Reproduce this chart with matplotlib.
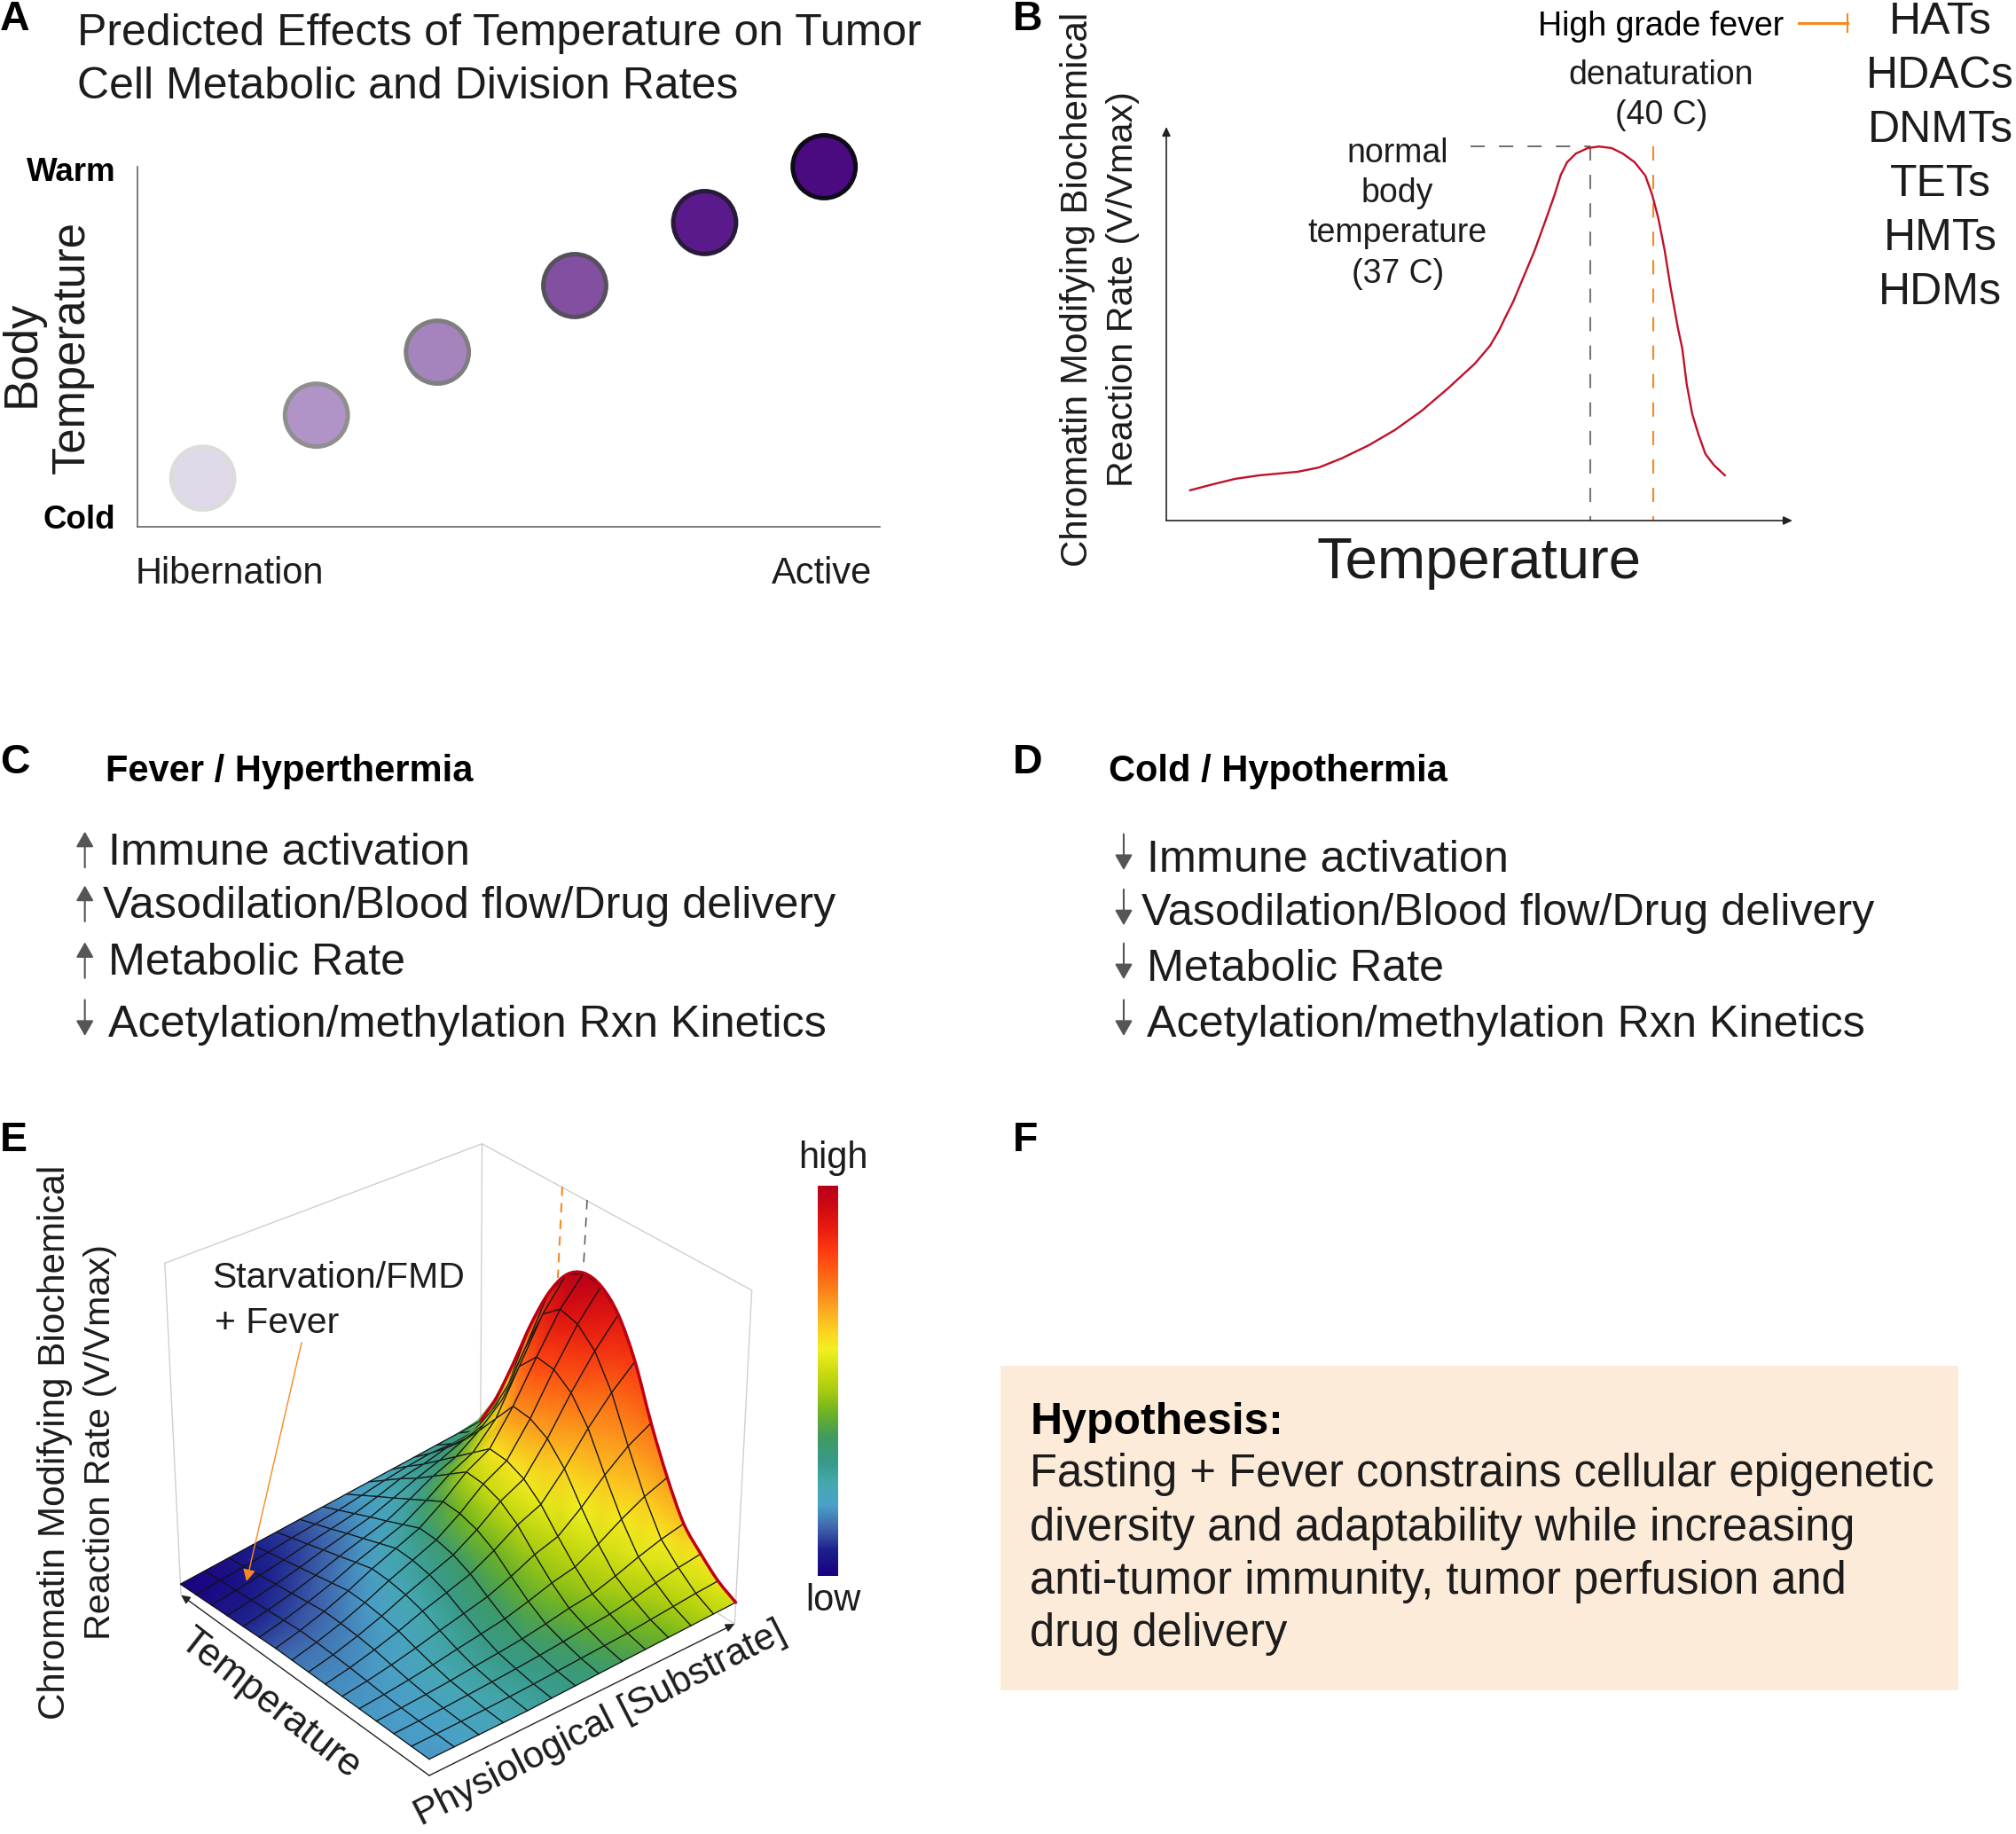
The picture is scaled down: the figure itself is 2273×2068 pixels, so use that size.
import numpy as np
import matplotlib
matplotlib.use('Agg')
import matplotlib.pyplot as plt
from matplotlib.colors import LinearSegmentedColormap, Normalize
from matplotlib.cm import ScalarMappable
from matplotlib.path import Path
from matplotlib.patches import PathPatch

plt.rcParams['font.family'] = ['Liberation Sans', 'DejaVu Sans']
W, H = 2273, 2068
INK = '#1c1c1c'
ORANGE = '#f58a20'

activity = [0.088, 0.241, 0.404, 0.589, 0.764, 0.925]
body_temp = [0.135, 0.31, 0.485, 0.67, 0.845, 1.0]
dot_fill = ['#e0d9ea', '#b094c8', '#a583bd', '#834fa0', '#5b1a8b', '#4a0a80']
dot_edge = ['#dcdcdc', '#8f8f8f', '#7f7f7f', '#55505c', '#2a1a3a', '#0e0a18']

curve_t = [3.8,7.4,11.0,14.9,21.0,24.4,28.0,32.3,36.5,40.8,45.0,49.3,51.7,53.1,54.2,55.4,58.8,60.6,62.0,63.0,64.0,65.4,67.3,69.1,71.1,72.9,74.8,76.5,77.6,78.6,79.6,80.5,81.7,82.4,83.1,84.0,85.0,86.1,87.5,89.2]
curve_r = [7.7,9.2,10.6,11.5,12.4,13.5,15.8,19.1,23.0,27.9,33.6,39.9,44.4,48.2,51.8,55.6,68.5,76.4,82.7,87.8,91.0,93.2,94.6,95.0,94.6,93.2,91.0,87.6,82.7,76.6,68.5,59.5,48.9,43.7,34.7,27.0,21.8,16.9,14.0,11.5]
normal_t, fever_t, peak_r = 67.7, 77.8, 95

enzymes = ['HATs', 'HDACs', 'DNMTs', 'TETs', 'HMTs', 'HDMs']
enzyme_y = [15, 57, 99, 141, 183, 225]
hyper_items = ['Immune activation', 'Vasodilation/Blood flow/Drug delivery', 'Metabolic Rate', 'Acetylation/methylation Rxn Kinetics']
hyper_dir = [1, 1, 1, -1]
hypo_dir = [-1, -1, -1, -1]

cmap_pos = [0,.065,.12,.18,.235,.29,.355,.42,.475,.525,.58,.63,.68,.745,.825,.89,.945,1]
cmap_col = ['#1a0080','#1c1f8c','#3e62ab','#4aa0c8','#45a8b0','#389a8a','#3f9a60','#6db322','#a8cc10','#ccdb10','#f2f020','#fcd020','#fbaa20','#fb7818','#ff4010','#e81c10','#d00a12','#b80018']

# rows: substrate low -> high; columns: temperature low -> high
surface_height = np.array([
 [.050,.050,.050,.050,.050,.050,.050,.050,.050,.050,.0475,.045,.0425,.040,.0375,.035],
 [.050,.051,.052,.054,.057,.061,.065,.068,.070,.070,.066,.061,.057,.052,.048,.043],
 [.050,.052,.055,.059,.066,.075,.085,.091,.094,.095,.088,.080,.073,.066,.058,.051],
 [.050,.053,.059,.065,.077,.092,.108,.118,.124,.125,.114,.103,.092,.081,.070,.059],
 [.050,.055,.063,.073,.090,.111,.135,.150,.158,.160,.145,.129,.114,.098,.083,.067],
 [.052,.058,.068,.080,.102,.129,.158,.178,.188,.190,.171,.152,.133,.113,.094,.075],
 [.054,.062,.074,.088,.114,.147,.182,.206,.218,.220,.197,.174,.152,.129,.106,.083],
 [.056,.066,.081,.100,.134,.176,.221,.251,.267,.270,.240,.210,.180,.151,.121,.091],
 [.058,.070,.090,.114,.157,.210,.267,.306,.326,.330,.290,.250,.210,.176,.137,.099],
 [.060,.074,.097,.124,.173,.233,.298,.343,.366,.370,.325,.280,.235,.190,.150,.107],
 [.062,.081,.110,.146,.211,.290,.376,.435,.464,.470,.400,.330,.265,.210,.160,.115],
 [.064,.088,.126,.172,.255,.358,.468,.544,.583,.590,.530,.395,.290,.215,.160,.123],
 [.066,.095,.140,.194,.293,.415,.546,.640,.690,.705,.660,.525,.380,.265,.170,.131],
 [.068,.100,.150,.210,.320,.455,.610,.720,.775,.785,.750,.665,.540,.390,.250,.140]])
surface_colour = np.array([
 [.17,.175,.175,.175,.17,.165,.16,.15,.135,.115,.09,.07,.05,.03,.012,0],
 [.18,.18,.18,.18,.175,.17,.16,.15,.135,.115,.095,.075,.055,.04,.025,.02],
 [.20,.20,.20,.20,.195,.185,.175,.16,.145,.125,.11,.09,.075,.055,.045,.04],
 [.22,.22,.23,.23,.225,.215,.205,.19,.175,.155,.135,.115,.095,.08,.07,.06],
 [.25,.25,.26,.26,.26,.25,.24,.23,.21,.19,.165,.14,.12,.105,.09,.085],
 [.28,.28,.29,.30,.30,.30,.29,.28,.26,.24,.20,.17,.15,.135,.12,.11],
 [.30,.31,.32,.33,.34,.35,.35,.34,.33,.30,.25,.21,.185,.165,.15,.14],
 [.33,.34,.36,.38,.40,.41,.42,.43,.42,.39,.33,.26,.23,.21,.185,.17],
 [.36,.38,.40,.42,.45,.47,.50,.52,.52,.50,.41,.31,.27,.25,.22,.19],
 [.39,.41,.43,.46,.49,.52,.56,.59,.60,.60,.50,.38,.31,.28,.25,.22],
 [.42,.44,.47,.50,.54,.58,.63,.68,.71,.72,.62,.47,.36,.31,.28,.24],
 [.46,.48,.51,.55,.59,.65,.71,.77,.81,.83,.76,.60,.44,.37,.31,.27],
 [.50,.52,.55,.59,.64,.70,.77,.85,.90,.93,.88,.74,.58,.45,.36,.30],
 [.54,.56,.60,.65,.70,.76,.84,.91,.97,1.0,.98,.90,.80,.70,.55,.33]])

fig = plt.figure(figsize=(W/100, H/100), dpi=100, facecolor='white')
ov = fig.add_axes([0, 0, 1, 1]); ov.set_xlim(0, 1568); ov.set_ylim(1427, 0); ov.axis('off')

def T(x, y, s, size, ha='left', rot=0, weight='normal', color=INK):
    if rot == 90:
        x += 2
    elif rot == 0:
        y += 2.5
    ov.text(x, y, s, fontsize=size, ha=ha, va='center', rotation=rot, fontweight=weight, color=color,
            rotation_mode='anchor')

def panel(px0, py0, px1, py1):
    return fig.add_axes([px0/W, 1-py1/H, (px1-px0)/W, (py1-py0)/H])

for s, x, y in [('A',0,13),('B',788,13),('C',0,591),('D',788,591),('E',0,885),('F',788,885)]:
    T(x, y, s, 33.5, weight='bold', color='black')

# Panel A
T(60, 24, 'Predicted Effects of Temperature on Tumor', 36)
T(60, 65, 'Cell Metabolic and Division Rates', 36)
axA = panel(155, 188, 992, 594)
axA.set_xlim(0, 1); axA.set_ylim(0, 1)
axA.scatter(activity, body_temp, s=2600, c=dot_fill, edgecolors=dot_edge, linewidths=3.6, clip_on=False, zorder=3)
for sp in ('top', 'right'): axA.spines[sp].set_visible(False)
for sp in ('left', 'bottom'): axA.spines[sp].set_color('#666666'); axA.spines[sp].set_linewidth(1.2)
axA.set_xticks([]); axA.set_yticks([]); axA.patch.set_alpha(0)
T(90, 132, 'Warm', 26.5, ha='right', weight='bold', color='black')
T(90, 402, 'Cold', 26.5, ha='right', weight='bold', color='black')
T(15, 275, 'Body', 38, ha='center', rot=90)
T(54, 270, 'Temperature', 36.5, ha='center', rot=90)
T(105, 444, 'Hibernation', 30)
T(678, 444, 'Active', 30, ha='right')

# Panel B
axB = panel(1315, 143, 2021, 587)
axB.set_xlim(0, 100); axB.set_ylim(0, 100); axB.patch.set_alpha(0)
axB.plot([normal_t, normal_t], [peak_r, 0], color='#777777', lw=1.5, dashes=(7.7, 7.7))
axB.plot([fever_t, fever_t], [peak_r, 0], color=ORANGE, lw=1.5, dashes=(7.7, 7.7))
axB.plot([48.6, normal_t], [peak_r, peak_r], color='#444444', lw=1.1, dashes=(10.5, 10.5))
axB.plot(curve_t, curve_r, color='#c0102a', lw=1.7, solid_joinstyle='round')
for sp in ('top', 'right', 'left', 'bottom'): axB.spines[sp].set_visible(False)
axB.set_xticks([]); axB.set_yticks([])
ax_arrow = dict(arrowstyle='-|>,head_length=.6,head_width=.28', color='#222', lw=1.2, shrinkA=0, shrinkB=0)
axB.annotate('', (1.0, 0), (0, 0), xycoords='axes fraction', arrowprops=ax_arrow)
axB.annotate('', (0, 1.0), (0, 0), xycoords='axes fraction', arrowprops=ax_arrow)
T(836, 225, 'Chromatin Modifying Biochemical', 30.3, ha='center', rot=90)
T(871, 225, 'Reaction Rate (V/Vmax)', 29.8, ha='center', rot=90)
T(1150, 436, 'Temperature', 47, ha='center')
T(1292, 18, 'High grade fever', 27, ha='center', color='black')
T(1292, 56, 'denaturation', 27, ha='center')
T(1292, 87, '(40 C)', 27, ha='center')
for y, s in zip([117, 148, 179, 211], ['normal', 'body', 'temperature', '(37 C)']):
    T(1087, y, s, 27, ha='center')
ov.plot([1399, 1437], [18, 18], color=ORANGE, lw=2.2)
ov.plot([1437, 1437], [11, 25], color=ORANGE, lw=1.5)
for s, y in zip(enzymes, enzyme_y):
    T(1509, y, s, 36, ha='center')

# Panels C, D
def arrows(x, ys, dirs):
    for y, d in zip(ys, dirs):
        ov.annotate('', (x, y-14*d), (x, y+14*d), arrowprops=dict(arrowstyle='-|>,head_length=1.05,head_width=.6', color='#555555', lw=1.5, shrinkA=0, shrinkB=0))
T(82, 598, 'Fever / Hyperthermia', 30, weight='bold', color='black')
T(862, 598, 'Cold / Hypothermia', 30, weight='bold', color='black')
for s, x, y in zip(hyper_items, [84, 80, 84, 84], [661, 703, 747, 795]):
    T(x, y, s, 36.2)
arrows(66, [661, 703, 747, 792], hyper_dir)
for s, x, y in zip(hyper_items, [892, 888, 892, 892], [667, 708, 752, 795]):
    T(x, y, s, 36.2)
arrows(874, [663, 706, 748, 792], hypo_dir)

# Panel E
cm = LinearSegmentedColormap.from_list('e', list(zip(cmap_pos, cmap_col)), N=512)
norm = Normalize(0, 1)
corners = [((0,0,0),(485,2002)),((1,0,0),(827,1832)),((0,1,0),(203,1798)),((1,1,0),(543,1650)),
           ((0,1,1),(186,1425)),((1,1,1),(543,1290)),((1,0,1),(848,1454))]
M = []; b = []
for (u,v,w),(x,y) in corners:
    M.append([u,v,w,1,0,0,0,0,-x*u,-x*v,-x*w]); b.append(x)
    M.append([0,0,0,0,u,v,w,1,-y*u,-y*v,-y*w]); b.append(y)
p = np.linalg.lstsq(np.array(M,float), np.array(b,float), rcond=None)[0]
P = np.append(p, 1).reshape(3, 4)
def project(u, v, w):
    u, v, w = np.asarray(u,float), np.asarray(v,float), np.asarray(w,float)
    d = P[2,0]*u+P[2,1]*v+P[2,2]*w+P[2,3]
    return (P[0,0]*u+P[0,1]*v+P[0,2]*w+P[0,3])/d, (P[1,0]*u+P[1,1]*v+P[1,2]*w+P[1,3])/d

axE = panel(150, 1270, 900, 2060)
axE.set_xlim(150, 900); axE.set_ylim(2060, 1270); axE.axis('off')
def box(a, c, color='#cfcfcf', lw=1.0, z=1):
    xs, ys = project(*np.array([a, c]).T)
    axE.plot(xs, ys, color=color, lw=lw, zorder=z)
for a_, c_ in [((0,1,1),(1,1,1)),((1,1,1),(1,0,1)),((0,1,1),(0,1,0)),((1,0,1),(1,0,0)),((1,1,1),(1,1,0)),((1,0,0),(1,0.06,0.0))]:
    box(a_, c_)
nS, nT = surface_height.shape
uu, vv = np.meshgrid(np.linspace(0,1,nS), np.linspace(0,1,nT), indexing='ij')
PX, PY = project(uu, vv, surface_height)
z = 2.0
for i in range(nS-2, -1, -1):
    for j in range(nT-2, -1, -1):
        axE.pcolormesh(PX[i:i+2,j:j+2], PY[i:i+2,j:j+2], surface_colour[i:i+2,j:j+2], shading='gouraud', cmap=cm, norm=norm, zorder=z)
        z += .001
        axE.plot(PX[[i,i+1,i+1,i,i],[j,j,j+1,j+1,j]], PY[[i,i+1,i+1,i,i],[j,j,j+1,j+1,j]], color='#141414', lw=.9, zorder=z, solid_joinstyle='round')
        z += .001
# the rim: a smooth Bezier path through the top row of the surface
rim = np.column_stack([PX[-1], PY[-1]])
pad = np.vstack([rim[0], rim, rim[-1]])
verts = [tuple(rim[0])]; codes = [Path.MOVETO]
for n in range(1, len(pad)-2):
    verts += [tuple(pad[n]+(pad[n+1]-pad[n-1])/6), tuple(pad[n+1]-(pad[n+2]-pad[n])/6), tuple(pad[n+1])]
    codes += [Path.CURVE4]*3
axE.add_patch(PathPatch(Path(verts, codes), fill=False, edgecolor='#c00012', lw=2.5, zorder=z+1, capstyle='round', joinstyle='round'))
arrow_kw = dict(arrowstyle='-|>,head_length=.6,head_width=.28', color='#222', lw=1.0, shrinkA=0, shrinkB=0)
f2 = project(0,0,0); l2 = project(0,1,0); r2 = project(1,0,0)
axE.annotate('', l2, f2, arrowprops=arrow_kw, zorder=z+2)
axE.annotate('', r2, f2, arrowprops=arrow_kw, zorder=z+2)
axE.plot([634, 629], [1338, 1441], color=ORANGE, lw=1.5, dashes=(5, 4), zorder=1.5)
axE.plot([662, 658], [1353, 1426], color='#555', lw=1.1, dashes=(7, 6), zorder=1.5)
axE.annotate('', (278, 1783), (340, 1514), arrowprops=dict(arrowstyle='-|>,head_length=.8,head_width=.42', color=ORANGE, lw=1.0, shrinkA=0, shrinkB=0), zorder=z+3)
T(165, 992, 'Starvation/FMD', 29.5)
T(167, 1027, '+ Fever', 29.5)
T(41, 1122, 'Chromatin Modifying Biochemical', 30.3, ha='center', rot=90)
T(76, 1122, 'Reaction Rate (V/Vmax)', 29.8, ha='center', rot=90)
T(210, 1326, 'Temperature', 31.5, ha='center', rot=-38)
T(467, 1341, 'Physiological [Substrate]', 30.5, ha='center', rot=27)
cax = panel(922, 1337, 945, 1777)
cb = fig.colorbar(ScalarMappable(norm=norm, cmap=cm), cax=cax)
cb.set_ticks([]); cb.outline.set_visible(False)
T(648, 899, 'high', 30, ha='center')
T(648, 1243, 'low', 30, ha='center')

# Hypothesis
ov.fill([778,1523,1523,778],[1063,1063,1315,1315], color='#fdebd9', lw=0, zorder=0)
T(801, 1104, 'Hypothesis:', 36, weight='bold', color='black')
for y, s in zip([1145, 1187, 1228, 1269], ['Fasting + Fever constrains cellular epigenetic', 'diversity and adaptability while increasing', 'anti-tumor immunity, tumor perfusion and', 'drug delivery']):
    T(801, y, s, 36.5)

fig.savefig('out.png', dpi=100)
